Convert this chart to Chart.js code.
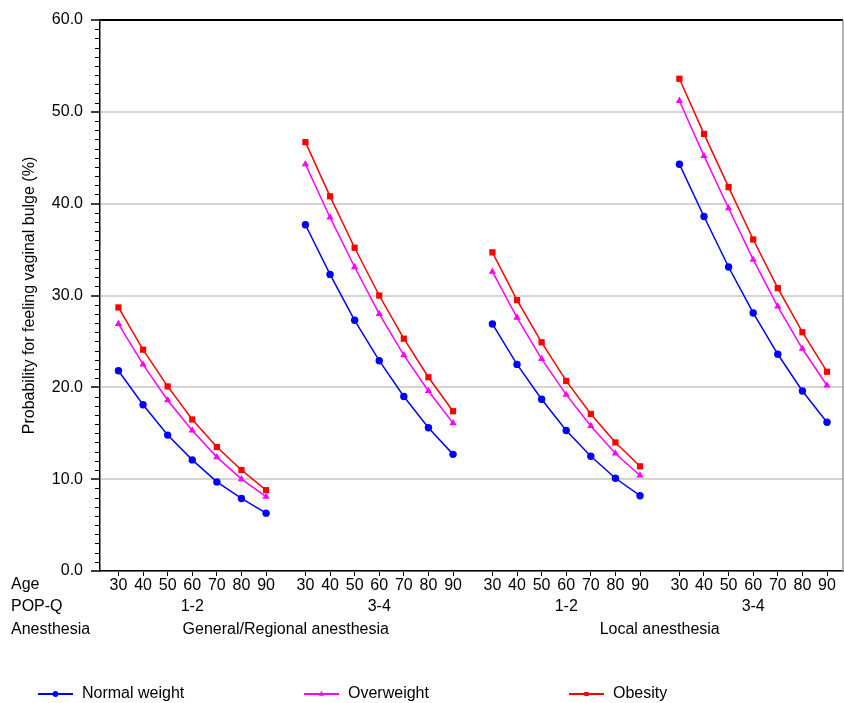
<!DOCTYPE html>
<html>
<head>
<meta charset="utf-8">
<script src="https://cdn.jsdelivr.net/npm/chart.js@4.4.0/dist/chart.umd.min.js"></script>
<style>
  html, body { margin: 0; padding: 0; background: #fff; overflow: hidden; }
  canvas { display: block; }
</style>
</head>
<body>
<canvas id="chart" width="844" height="703"></canvas>
<script>
// 数据
const ages = [30, 40, 50, 60, 70, 80, 90];
const popqGroups = ['1-2', '3-4', '1-2', '3-4'];
const anesthesiaGroups = ['General/Regional anesthesia', 'Local anesthesia'];
const yTicks = [0, 10, 20, 30, 40, 50, 60];

const normalWeight = [
  21.8, 18.1, 14.8, 12.1, 9.7, 7.9, 6.3,
  37.7, 32.3, 27.3, 22.9, 19.0, 15.6, 12.7,
  26.9, 22.5, 18.7, 15.3, 12.5, 10.1, 8.2,
  44.3, 38.6, 33.1, 28.1, 23.6, 19.6, 16.2
];
const overweight = [
  26.9, 22.5, 18.6, 15.3, 12.4, 10.0, 8.1,
  44.3, 38.5, 33.1, 28.0, 23.5, 19.6, 16.1,
  32.6, 27.6, 23.1, 19.2, 15.8, 12.8, 10.4,
  51.2, 45.2, 39.5, 33.9, 28.8, 24.2, 20.2
];
const obesity = [
  28.7, 24.1, 20.1, 16.5, 13.5, 11.0, 8.8,
  46.7, 40.8, 35.2, 30.0, 25.3, 21.1, 17.4,
  34.7, 29.5, 24.9, 20.7, 17.1, 14.0, 11.4,
  53.6, 47.6, 41.8, 36.1, 30.8, 26.0, 21.7
];

const FONT = '"Liberation Sans", Arial, sans-serif';
const groupStep = 7.6;  // 每组之间的间隔

// 每个点的横坐标
const xPos = [];
for (let g = 0; g < popqGroups.length; g++) {
  for (let i = 0; i < ages.length; i++) xPos.push(g * groupStep + i);
}

// 组之间插入 null 断开折线
function toPoints(values) {
  const pts = [];
  values.forEach((v, k) => {
    if (k > 0 && k % ages.length === 0) pts.push({ x: xPos[k] - 0.8, y: null });
    pts.push({ x: xPos[k], y: v });
  });
  return pts;
}

const seriesDefs = [
  { label: 'Normal weight', data: normalWeight, color: '#0000ff', style: 'circle', r: 3.7, legendX: 38 },
  { label: 'Overweight', data: overweight, color: '#ff00ff', style: 'triangle', r: 4.2, legendX: 304 },
  { label: 'Obesity', data: obesity, color: '#ff0000', style: 'rect', r: 4.4, legendX: 569 }
];

// 自定义绘制：坐标轴边框、次刻度、分组标签、图例
const decorPlugin = {
  id: 'decor',
  afterDraw(chart) {
    const ctx = chart.ctx;
    const a = chart.chartArea;
    const xs = chart.scales.x;
    const ys = chart.scales.y;
    ctx.save();

    // 次刻度
    ctx.strokeStyle = '#000';
    ctx.lineWidth = 1;
    for (let v = 0; v <= 60; v++) {
      if (v % 10 === 0) continue;
      const y = Math.round(ys.getPixelForValue(v)) + 0.5;
      ctx.beginPath();
      ctx.moveTo(a.left - 5, y);
      ctx.lineTo(a.left, y);
      ctx.stroke();
    }

    // 上边框和右边框
    ctx.strokeStyle = '#000';
    ctx.lineWidth = 2;
    ctx.beginPath();
    ctx.moveTo(a.left, a.top);
    ctx.lineTo(a.right, a.top);
    ctx.stroke();
    ctx.strokeStyle = '#999';
    ctx.lineWidth = 1.5;
    ctx.beginPath();
    ctx.moveTo(a.right, a.top);
    ctx.lineTo(a.right, a.bottom);
    ctx.stroke();

    // 行标题
    ctx.fillStyle = '#000';
    ctx.font = '16px ' + FONT;
    ctx.textBaseline = 'middle';
    ctx.textAlign = 'left';
    ctx.fillText('Age', 11, 585);
    ctx.fillText('POP-Q', 11, 607);
    ctx.fillText('Anesthesia', 11, 630);

    // POP-Q 分组标签
    ctx.textAlign = 'center';
    const n = ages.length;
    const centers = popqGroups.map((lab, g) => {
      const cx = xs.getPixelForValue((xPos[g * n] + xPos[g * n + n - 1]) / 2);
      ctx.fillText(lab, cx, 607);
      return cx;
    });
    // 麻醉方式标签
    anesthesiaGroups.forEach((lab, k) => {
      ctx.fillText(lab, (centers[2 * k] + centers[2 * k + 1]) / 2, 630);
    });

    // 图例
    const ly = 694;
    seriesDefs.forEach(s => {
      ctx.strokeStyle = s.color;
      ctx.fillStyle = s.color;
      ctx.lineWidth = 2;
      ctx.beginPath();
      ctx.moveTo(s.legendX, ly);
      ctx.lineTo(s.legendX + 35, ly);
      ctx.stroke();
      Chart.helpers.drawPoint(ctx, { pointStyle: s.style, radius: 2.8, borderWidth: 0 }, s.legendX + 17.5, ly);
      ctx.fill();
      ctx.fillStyle = '#000';
      ctx.textAlign = 'left';
      ctx.fillText(s.label, s.legendX + 44, ly);
    });

    ctx.restore();
  }
};

new Chart(document.getElementById('chart'), {
  type: 'line',
  data: {
    datasets: seriesDefs.map(s => ({
      label: s.label,
      data: toPoints(s.data),
      borderColor: s.color,
      backgroundColor: s.color,
      borderWidth: 1.5,
      pointStyle: s.style,
      pointRadius: s.r,
      pointBorderWidth: 0,
      pointBackgroundColor: s.color,
      spanGaps: false,
      tension: 0
    }))
  },
  options: {
    responsive: false,
    animation: false,
    layout: { autoPadding: false, padding: { top: 20, right: 1, left: 0, bottom: 0 } },
    plugins: {
      legend: { display: false },
      tooltip: { enabled: false }
    },
    scales: {
      x: {
        type: 'linear',
        min: -0.75,
        max: 3 * groupStep + 6 + 0.65,
        afterBuildTicks: scale => { scale.ticks = xPos.map(v => ({ value: v })); },
        afterFit: scale => { scale.height = 132; scale.paddingRight = 0; scale.paddingLeft = 0; },
        grid: { drawOnChartArea: false, tickLength: 5, tickColor: '#000', tickWidth: 1 },
        border: { color: '#000', width: 1.5 },
        ticks: {
          autoSkip: false,
          maxRotation: 0,
          padding: 0,
          color: '#000',
          font: { size: 16, family: FONT },
          callback: value => {
            const k = xPos.findIndex(p => Math.abs(p - value) < 1e-6);
            return k < 0 ? '' : String(ages[k % ages.length]);
          }
        }
      },
      y: {
        min: yTicks[0],
        max: yTicks[yTicks.length - 1],
        afterBuildTicks: scale => { scale.ticks = yTicks.map(v => ({ value: v })); },
        afterFit: scale => { scale.width = 100; },
        grid: { color: '#d4d4d4', lineWidth: 2, tickLength: 9, tickColor: '#000', tickWidth: 1.5 },
        border: { color: '#000', width: 1.5 },
        ticks: {
          padding: 8,
          color: '#000',
          font: { size: 16, family: FONT },
          callback: v => v.toFixed(1)
        },
        title: {
          display: true,
          text: 'Probability for feeling vaginal bulge (%)',
          color: '#000',
          font: { size: 16, family: FONT },
          padding: { top: 20, bottom: 0 }
        }
      }
    }
  },
  plugins: [decorPlugin]
});
</script>
</body>
</html>
